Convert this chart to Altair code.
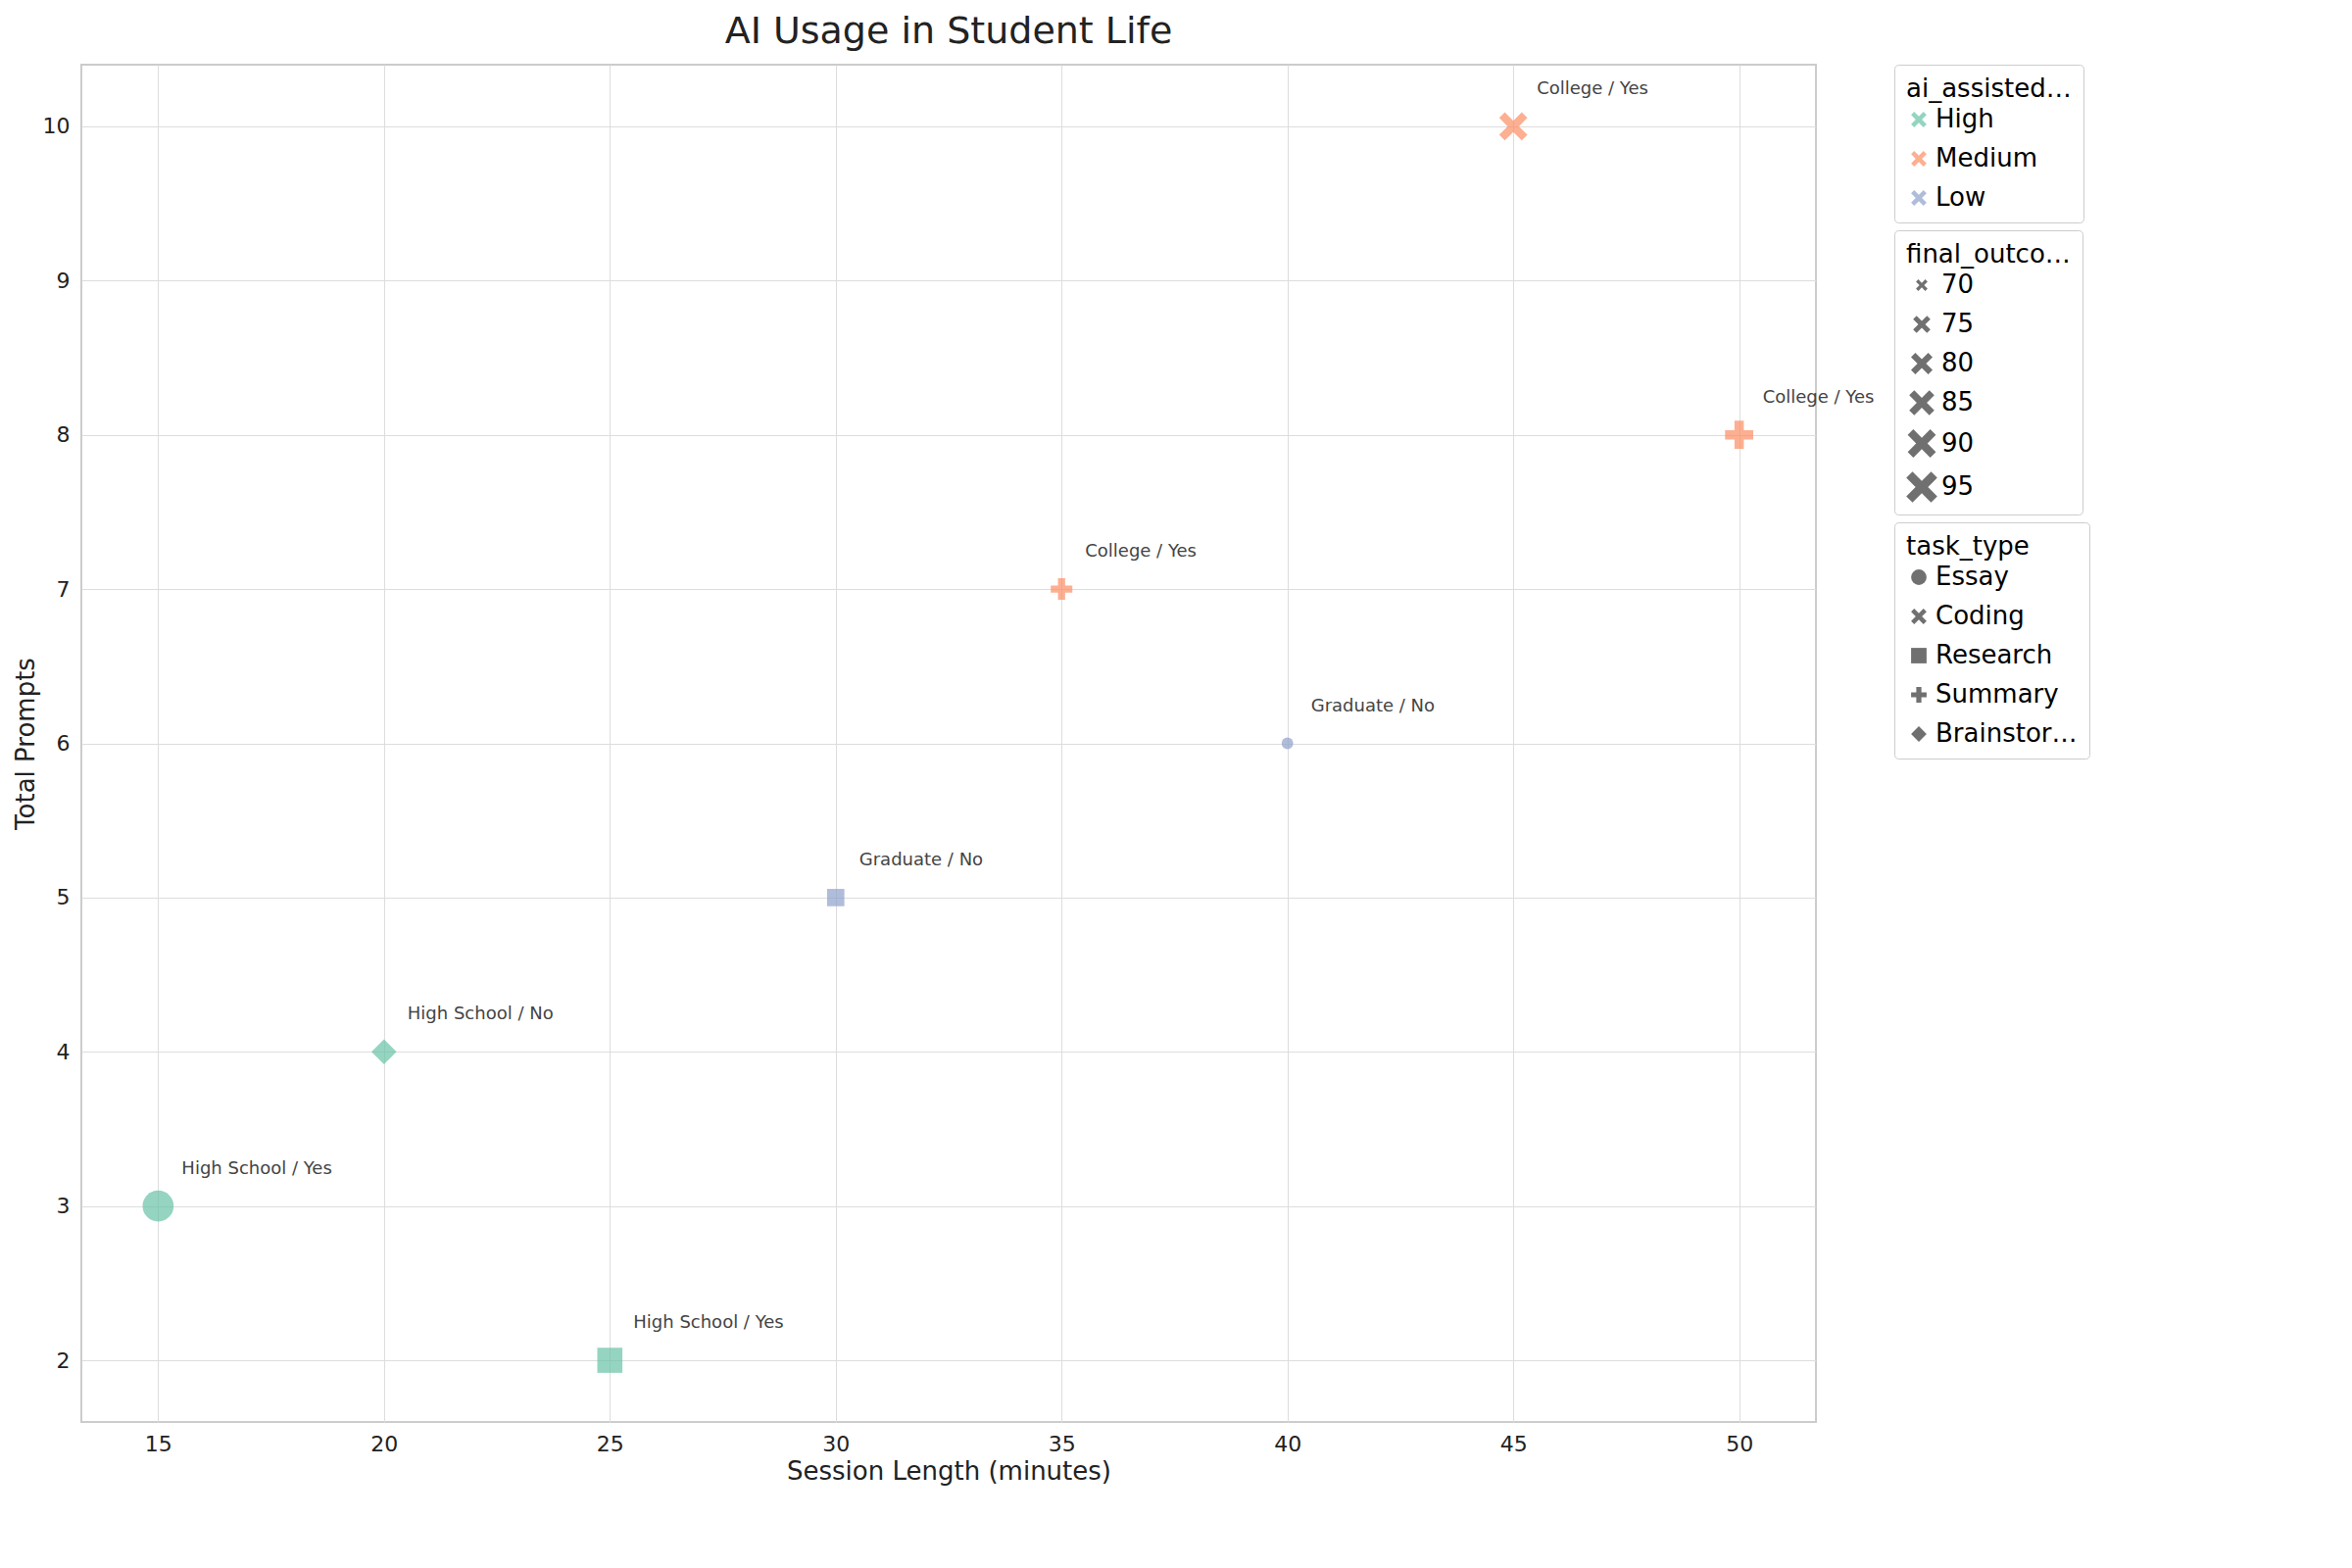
import altair as alt
import pandas as pd

session = [15, 20, 25, 30, 35, 40, 45, 50]
prompts = [3, 4, 2, 5, 7, 6, 10, 8]
level = ["High", "High", "High", "Low", "Medium", "Low", "Medium", "Medium"]
task = ["Essay", "Brainstorming", "Research", "Research", "Summary", "Essay", "Coding", "Summary"]
outcome = [95, 85, 85, 75, 80, 70, 90, 90]
labels = ["High School / Yes", "High School / No", "High School / Yes", "Graduate / No",
          "College / Yes", "Graduate / No", "College / Yes", "College / Yes"]

df = pd.DataFrame(dict(session=session, prompts=prompts, level=level, task=task,
                       outcome=outcome, label=labels))

xpath = "M-0.6,-1L0,-0.4L0.6,-1L1,-0.6L0.4,0L1,0.6L0.6,1L0,0.4L-0.6,1L-1,0.6L-0.4,0L-1,-0.6Z"
plus = "M-0.33,-1L0.33,-1L0.33,-0.33L1,-0.33L1,0.33L0.33,0.33L0.33,1L-0.33,1L-0.33,0.33L-1,0.33L-1,-0.33L-0.33,-0.33Z"

x = alt.X("session:Q", title="Session Length (minutes)",
          scale=alt.Scale(domain=[13.3, 51.7], nice=False, zero=False),
          axis=alt.Axis(values=[15, 20, 25, 30, 35, 40, 45, 50]))
y = alt.Y("prompts:Q", title="Total Prompts",
          scale=alt.Scale(domain=[1.6, 10.4], nice=False, zero=False),
          axis=alt.Axis(values=list(range(2, 11))))

pts = alt.Chart(df).mark_point(filled=True, opacity=0.7, strokeWidth=0).encode(
    x=x, y=y,
    color=alt.Color("level:N", title="ai_assisted_level",
                    scale=alt.Scale(domain=["High", "Medium", "Low"],
                                    range=["#66c2a5", "#fc8d62", "#8da0cb"]),
                    legend=alt.Legend(symbolType=xpath, symbolSize=250)),
    size=alt.Size("outcome:Q", title="final_outcome",
                  scale=alt.Scale(domain=[70, 95], range=[140, 1000]),
                  legend=alt.Legend(values=[70, 75, 80, 85, 90, 95], symbolType=xpath,
                                    symbolFillColor="#333")),
    shape=alt.Shape("task:N", title="task_type",
                    scale=alt.Scale(domain=["Essay", "Coding", "Research", "Summary", "Brainstorming"],
                                    range=["circle", xpath, "square", plus, "diamond"]),
                    legend=alt.Legend(symbolFillColor="#333", symbolSize=250)),
)

txt = alt.Chart(df).mark_text(align="left", dx=24, dy=-38, fontSize=18, color="#444",
                              font="DejaVu Sans").encode(x=x, y=y, text="label:N")

chart = (pts + txt).properties(
    width=1770, height=1385,
    title=alt.Title("AI Usage in Student Life", fontSize=38, fontWeight="normal", color="#222", offset=14),
).configure(font="DejaVu Sans").configure_axis(
    labelFontSize=22, titleFontSize=26, titleFontWeight="normal", gridColor="#dddddd",
    domain=False, ticks=False, labelColor="#222", titleColor="#222", labelPadding=12,
).configure_view(stroke="#cccccc", strokeWidth=2).configure_legend(
    titleFontSize=26, labelFontSize=26, titleFontWeight="normal", orient="right",
    strokeColor="#cccccc", padding=12, cornerRadius=4, rowPadding=14, offset=80,
    symbolStrokeWidth=0,
)

chart.save("out.html", embed_options={"renderer": "svg", "actions": False})
